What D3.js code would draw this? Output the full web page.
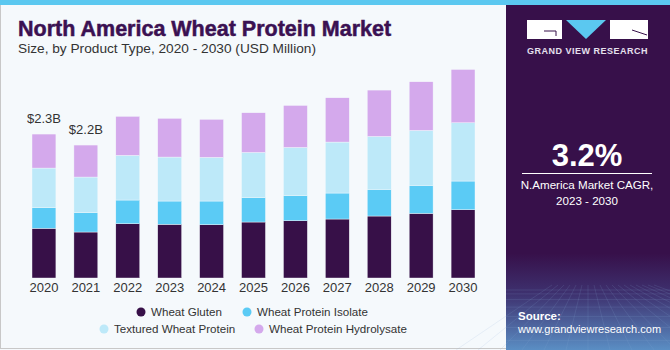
<!DOCTYPE html>
<html>
<head>
<meta charset="utf-8">
<script src="https://cdn.jsdelivr.net/npm/d3@7"></script>
<style>
  body { margin: 0; background: #f5f9fc; }
  svg { display: block; font-family: "Liberation Sans", Arial, sans-serif; }
</style>
</head>
<body>
<script>
// data (USD Million)
var years = ['2020','2021','2022','2023','2024','2025','2026','2027','2028','2029','2030'];
var wheatGluten    = [795, 736, 869, 859, 853, 896, 917, 944, 992, 1034, 1093];
var proteinIsolate = [330, 309, 379, 373, 379, 389, 400, 416, 426, 448, 459];
var texturedWheat  = [635, 571, 715, 704, 699, 725, 773, 816, 848, 880, 933];
var hydrolysate    = [544, 512, 624, 619, 608, 635, 672, 709, 742, 779, 853];
var seriesNames = ['Wheat Gluten', 'Wheat Protein Isolate', 'Textured Wheat Protein', 'Wheat Protein Hydrolysate'];
var totalLabels = ['$2.3B', '$2.2B'];

var colors = ['#371048', '#5bcbf5', '#bde9f9', '#d4a9ec'];

var width = 670, height = 350;

var svg = d3.select("body").append("svg").attr("width", width).attr("height", height);

// background + frame
svg.append("rect").attr("width", width).attr("height", height).attr("fill", "#f5f9fc");
svg.append("rect").attr("x", 0).attr("y", 0).attr("width", width).attr("height", 5).attr("fill", "#5bc8f0");
svg.append("line").attr("x1", 0.5).attr("x2", 0.5).attr("y1", 5).attr("y2", 348).attr("stroke", "#c8c8c8");
svg.append("line").attr("x1", 0).attr("x2", 506).attr("y1", 348.5).attr("y2", 348.5).attr("stroke", "#c8c8c8");

// title
svg.append("text").attr("x", 18).attr("y", 36)
  .attr("font-size", 21.5).attr("font-weight", 900).attr("fill", "#3b1152")
  .attr("stroke", "#3b1152").attr("stroke-width", 0.5)
  .text("North America Wheat Protein Market");
svg.append("text").attr("x", 18).attr("y", 53)
  .attr("font-size", 13.7).attr("fill", "#333")
  .text("Size, by Product Type, 2020 - 2030 (USD Million)");

// stack the series
var table = years.map(function(yr, i) {
  return { year: yr, s0: wheatGluten[i], s1: proteinIsolate[i], s2: texturedWheat[i], s3: hydrolysate[i] };
});
var stacked = d3.stack().keys(['s0','s1','s2','s3'])(table);

var x = d3.scaleBand().domain(years).range([23, 484]).paddingInner(0.43).paddingOuter(0.215);
var y = d3.scaleLinear().domain([0, 4450]).range([278, 0]);

var chart = svg.append("g");
chart.selectAll("g.layer").data(stacked).enter().append("g")
  .attr("class", "layer")
  .attr("fill", function(d, i) { return colors[i]; })
  .selectAll("rect").data(function(d) { return d; }).enter().append("rect")
  .attr("x", function(d) { return x(d.data.year); })
  .attr("width", x.bandwidth())
  .attr("y", function(d) { return y(d[1]); })
  .attr("height", function(d) { return y(d[0]) - y(d[1]); })
  .attr("stroke", "#f5f9fc").attr("stroke-width", 0.4);

// totals above first two bars
chart.selectAll("text.total").data(totalLabels).enter().append("text")
  .attr("class", "total")
  .attr("x", function(d, i) { return x(years[i]) + x.bandwidth() / 2; })
  .attr("y", function(d, i) { return y(stacked[3][i][1]) - 11; })
  .attr("text-anchor", "middle").attr("font-size", 13).attr("fill", "#333")
  .text(function(d) { return d; });

// x axis
var xAxis = d3.axisBottom(x).tickSize(0).tickPadding(5);
var gx = chart.append("g").attr("transform", "translate(0,278)").call(xAxis);
gx.select(".domain").remove();
gx.selectAll("text").attr("font-size", 13).attr("fill", "#333").attr("font-family", "Liberation Sans, Arial, sans-serif");

// legend
var legendPos = [[141, 312], [247, 312], [104, 329], [259, 329]];
var legend = svg.selectAll("g.leg").data(seriesNames).enter().append("g")
  .attr("class", "leg")
  .attr("transform", function(d, i) { return "translate(" + legendPos[i][0] + "," + legendPos[i][1] + ")"; });
legend.append("circle").attr("r", 4.5).attr("fill", function(d, i) { return colors[i]; });
legend.append("text").attr("x", 10).attr("y", 4.3).attr("font-size", 11.6).attr("fill", "#333")
  .text(function(d) { return d; });

// right panel
var defs = svg.append("defs");
var grad = defs.append("linearGradient").attr("id", "pg").attr("x1", 0).attr("x2", 0).attr("y1", 0).attr("y2", 1);
grad.append("stop").attr("offset", "0%").attr("stop-color", "#37104a");
grad.append("stop").attr("offset", "72%").attr("stop-color", "#37104a");
grad.append("stop").attr("offset", "84%").attr("stop-color", "#3e3270");
grad.append("stop").attr("offset", "100%").attr("stop-color", "#5a8ec4");
var panel = svg.append("g");
panel.append("rect").attr("x", 506).attr("y", 5).attr("width", 164).attr("height", 345).attr("fill", "url(#pg)");

// faint grid at the bottom of the panel
var gridG = panel.append("g").attr("stroke", "#8fb0da").attr("stroke-opacity", 0.25).attr("stroke-width", 0.6);
d3.range(0, 9).forEach(function(k) {
  var yy = 290 + k * k * 0.9 + k * 3;
  gridG.append("line").attr("x1", 506).attr("x2", 670).attr("y1", yy).attr("y2", yy);
});
d3.range(-6, 12).forEach(function(k) {
  gridG.append("line").attr("x1", 588 + k * 6).attr("x2", 588 + k * 22).attr("y1", 285).attr("y2", 350);
});

// logo
panel.append("rect").attr("x", 527).attr("y", 20).attr("width", 35).attr("height", 19).attr("fill", "#fff");
panel.append("path").attr("d", "M544,31 H556 V36").attr("fill", "none").attr("stroke", "#37104a").attr("stroke-width", 1);
panel.append("path").attr("d", "M566,20 L606,20 L586,39 Z").attr("fill", "#5bc8f0");
panel.append("rect").attr("x", 610).attr("y", 20).attr("width", 38).attr("height", 19).attr("fill", "#fff");
panel.append("path").attr("d", "M632,30 L647,35").attr("stroke", "#37104a").attr("stroke-width", 1);
panel.append("text").attr("x", 587.5).attr("y", 53.5).attr("text-anchor", "middle")
  .attr("font-size", 9).attr("font-weight", "bold").attr("letter-spacing", 0.5).attr("fill", "#e6e0ee")
  .text("GRAND VIEW RESEARCH");

panel.append("text").attr("x", 587).attr("y", 166).attr("text-anchor", "middle")
  .attr("font-size", 31).attr("font-weight", "bold").attr("fill", "#fff").text("3.2%");
panel.append("line").attr("x1", 522).attr("x2", 652).attr("y1", 173.5).attr("y2", 173.5).attr("stroke", "#fff").attr("stroke-width", 1);
panel.append("text").attr("x", 587).attr("y", 189).attr("text-anchor", "middle")
  .attr("font-size", 11.6).attr("fill", "#fff").text("N.America Market CAGR,");
panel.append("text").attr("x", 587).attr("y", 205).attr("text-anchor", "middle")
  .attr("font-size", 11.6).attr("fill", "#fff").text("2023 - 2030");

panel.append("text").attr("x", 518).attr("y", 320).attr("font-size", 11.5).attr("font-weight", "bold").attr("fill", "#fff").text("Source:");
panel.append("text").attr("x", 518).attr("y", 333).attr("font-size", 11).attr("fill", "#fff").text("www.grandviewresearch.com");
</script>
</body>
</html>
